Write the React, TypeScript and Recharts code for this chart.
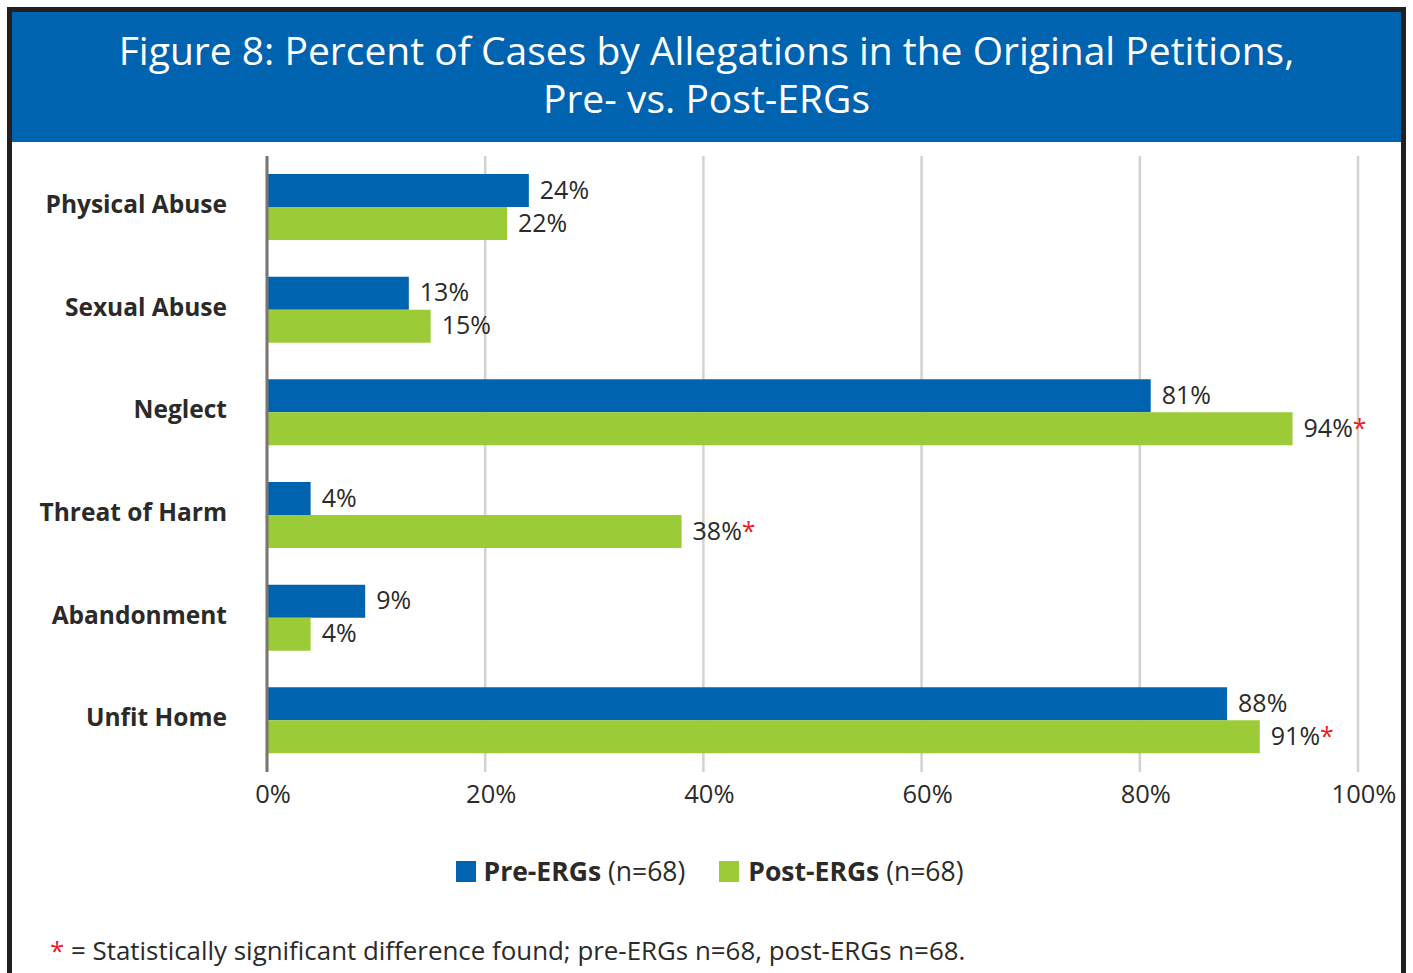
import React from "react";
import { BarChart, Bar, XAxis, YAxis, CartesianGrid, LabelList } from "recharts";

const categories = ["Physical Abuse", "Sexual Abuse", "Neglect", "Threat of Harm", "Abandonment", "Unfit Home"];
const preErgs = [24, 13, 81, 4, 9, 88];
const postErgs = [22, 15, 94, 38, 4, 91];
const postSignificant = [false, false, true, true, false, true];
const xTicks = [0, 20, 40, 60, 80, 100];

const BLUE = "#0063af";
const GREEN = "#9bcb37";
const INK = "#2b2a29";
const FONT = "'Open Sans', 'Noto Sans', sans-serif";

const data = categories.map((name, i) => ({
    name,
    pre: preErgs[i],
    post: postErgs[i],
    sig: postSignificant[i],
}));

const CategoryTick = (props: any) => {
    const { y, payload } = props;
    return (
        <text x={227} y={y - 4} textAnchor="end" dominantBaseline="central" fill={INK} fontSize={24.5} fontWeight={700} fontFamily={FONT}>
            {payload.value}
        </text>
    );
};

const PercentTick = (props: any) => {
    const { x, payload } = props;
    return (
        <text x={x + 6} y={793} textAnchor="middle" dominantBaseline="central" fill={INK} fontSize={25.5} fontFamily={FONT}>
            {payload.value}%
        </text>
    );
};

const makeValueLabel = (withStar: boolean) => (props: any) => {
    const { x, y, width, height, value, index } = props;
    const star = withStar && postSignificant[index];
    return (
        <text x={x + width + 11} y={y + height / 2 - 2} dominantBaseline="central" fill={INK} fontSize={25} fontFamily={FONT}>
            {value}%{star && <tspan fill="#ee1c25">*</tspan>}
        </text>
    );
};

const App = () => {
    return (
        <div style={{ position: "absolute", left: 0, top: 0, width: 1413, height: 973, background: "#fff", overflow: "hidden", fontFamily: FONT, color: INK }}>
            {/* frame + title band */}
            <div style={{ position: "absolute", left: 7, top: 7, width: 1389, height: 1000, border: "5px solid #231f20" }} />
            <div
                style={{
                    position: "absolute",
                    left: 12,
                    top: 12,
                    width: 1389,
                    height: 130,
                    background: "#0063b0",
                    color: "#fff",
                    fontSize: 39,
                    lineHeight: "48px",
                    textAlign: "center",
                    paddingTop: 14,
                    boxSizing: "border-box",
                }}
            >
                Figure 8: Percent of Cases by Allegations in the Original Petitions,
                <br />
                Pre- vs. Post-ERGs
            </div>

            <div style={{ position: "absolute", left: 0, top: 0 }}>
                <BarChart
                    width={1413}
                    height={830}
                    data={data}
                    layout="vertical"
                    margin={{ top: 156, right: 55, left: 27, bottom: 18 }}
                    barSize={33}
                    barGap={0}
                >
                    <CartesianGrid horizontal={false} stroke="#d5d2ce" strokeWidth={2.5} />
                    <XAxis
                        type="number"
                        domain={[0, 100]}
                        ticks={xTicks}
                        axisLine={false}
                        tickLine={false}
                        height={40}
                        tick={<PercentTick />}
                        interval={0}
                    />
                    <YAxis
                        type="category"
                        dataKey="name"
                        width={240}
                        axisLine={{ stroke: "#7a7570", strokeWidth: 3 }}
                        tickLine={false}
                        tick={<CategoryTick />}
                        interval={0}
                    />
                    <Bar dataKey="pre" fill={BLUE} isAnimationActive={false}>
                        <LabelList dataKey="pre" content={makeValueLabel(false)} />
                    </Bar>
                    <Bar dataKey="post" fill={GREEN} isAnimationActive={false}>
                        <LabelList dataKey="post" content={makeValueLabel(true)} />
                    </Bar>
                </BarChart>
            </div>

            {/* legend */}
            <div style={{ position: "absolute", left: 0, width: 1413, top: 855, display: "flex", justifyContent: "center", alignItems: "center", fontSize: 26.5, lineHeight: "32px", paddingLeft: 6, boxSizing: "border-box" }}>
                <span style={{ width: 20, height: 21, background: BLUE, display: "inline-block", marginRight: 8 }} />
                <span>
                    <b>Pre-ERGs</b> (n=68)
                </span>
                <span style={{ width: 20, height: 21, background: GREEN, display: "inline-block", marginLeft: 34, marginRight: 9 }} />
                <span>
                    <b>Post-ERGs</b> (n=68)
                </span>
            </div>

            {/* footnote */}
            <div style={{ position: "absolute", left: 50, top: 933, fontSize: 25.9, lineHeight: "34px", whiteSpace: "nowrap" }}>
                <span style={{ color: "#ee1c25" }}>*</span> = Statistically significant difference found; pre-ERGs n=68, post-ERGs n=68.
            </div>
        </div>
    );
};

export default App;
